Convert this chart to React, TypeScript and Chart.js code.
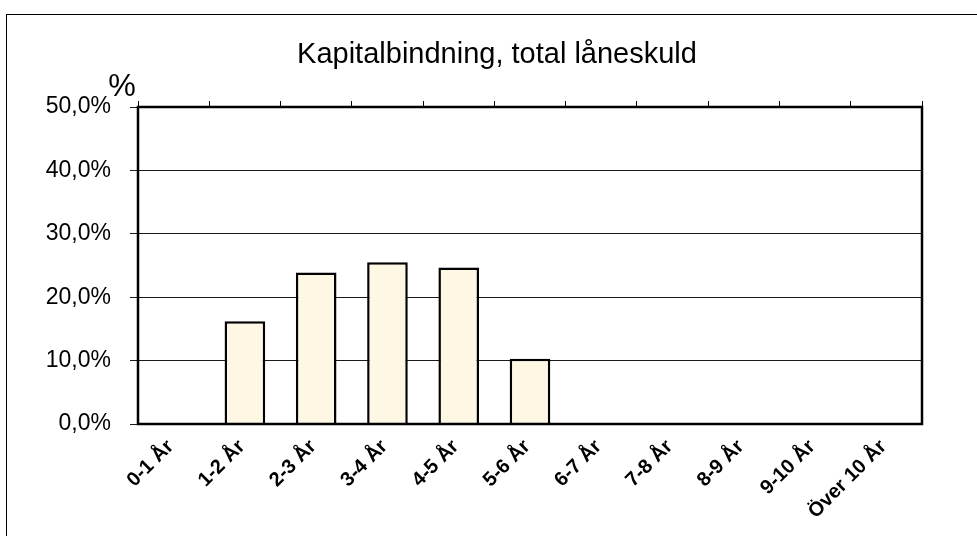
import React, { useEffect, useRef } from 'react';
import { Chart, registerables } from 'chart.js';

Chart.register(...registerables);

const categories = ['0-1 År', '1-2 År', '2-3 År', '3-4 År', '4-5 År', '5-6 År', '6-7 År', '7-8 År', '8-9 År', '9-10 År', 'Över 10 År'];
const shares = [0, 16.2, 23.9, 25.5, 24.7, 10.3, 0, 0, 0, 0, 0];
const yMin = 0;
const yMax = 50;
const yStep = 10;
const titleText = 'Kapitalbindning, total låneskuld';
const yUnit = '%';

const FONT = '"Liberation Sans", Arial, Helvetica, sans-serif';

const framePlugin = {
  id: 'frame',
  beforeDraw(chart: any) {
    const ctx = chart.ctx;
    ctx.save();
    ctx.fillStyle = '#ffffff';
    ctx.fillRect(0, 0, chart.width, chart.height);
    ctx.strokeStyle = '#000000';
    ctx.lineWidth = 1;
    ctx.strokeRect(6.5, 14.5, 3000, 3000);
    ctx.restore();
  },
  afterDraw(chart: any) {
    const ctx = chart.ctx;
    const a = chart.chartArea;
    ctx.save();
    ctx.strokeStyle = '#000000';
    ctx.lineWidth = 2.5;
    ctx.strokeRect(a.left, a.top, a.right - a.left, a.bottom - a.top);
    ctx.fillStyle = '#000000';
    ctx.textBaseline = 'alphabetic';
    ctx.textAlign = 'center';
    ctx.font = `29px ${FONT}`;
    ctx.fillText(titleText, 497, 63);
    ctx.font = `31px ${FONT}`;
    ctx.fillText(yUnit, a.left - 16, a.top - 11);
    ctx.restore();
  },
};

export default function App() {
  const ref = useRef<HTMLCanvasElement | null>(null);

  useEffect(() => {
    if (!ref.current) return;
    const chart = new Chart(ref.current, {
      type: 'bar',
      data: {
        labels: categories,
        datasets: [
          {
            data: shares,
            backgroundColor: '#FEF7E4',
            borderColor: '#000000',
            borderWidth: 2.5,
            barPercentage: 0.57,
            categoryPercentage: 1,
            xAxisID: 'x',
            yAxisID: 'y',
          },
        ],
      },
      options: {
        responsive: false,
        animation: false,
        devicePixelRatio: 1,
        layout: { padding: { left: 0, right: 55, top: 101, bottom: 0 } },
        plugins: {
          legend: { display: false },
          tooltip: { enabled: false },
          title: { display: false },
        },
        scales: {
          x: {
            type: 'category',
            position: 'bottom',
            offset: true,
            grid: { display: false, drawTicks: false, offset: true },
            border: { display: false },
            ticks: {
              autoSkip: false,
              minRotation: 45,
              maxRotation: 45,
              padding: 11,
              labelOffset: -3,
              color: '#000000',
              font: { size: 20, family: FONT, weight: 'bold' },
            },
            afterFit(scale: any) {
              scale.height = 112;
            },
          },
          xTop: {
            type: 'category',
            position: 'top',
            offset: true,
            grid: { offset: true, drawOnChartArea: false, drawTicks: true, tickLength: 6, color: '#000000', lineWidth: 1 },
            border: { display: false },
            ticks: { display: false },
            afterFit(scale: any) {
              scale.height = 6;
            },
          },
          y: {
            min: yMin,
            max: yMax,
            position: 'left',
            grid: { color: '#1a1a1a', lineWidth: 1, tickLength: 8, drawTicks: true },
            border: { display: false },
            ticks: {
              stepSize: yStep,
              padding: 19,
              color: '#000000',
              font: { size: 23, family: FONT },
              callback: (v: any) => Number(v).toFixed(1).replace('.', ',') + '%',
            },
            afterFit(scale: any) {
              scale.width = 138;
            },
          },
        },
      },
      plugins: [framePlugin],
    });
    return () => chart.destroy();
  }, []);

  return (
    <div style={{ position: 'absolute', left: 0, top: 0, width: 977, height: 536 }}>
      <canvas ref={ref} width={977} height={536} style={{ display: 'block', width: 977, height: 536 }} />
    </div>
  );
}
